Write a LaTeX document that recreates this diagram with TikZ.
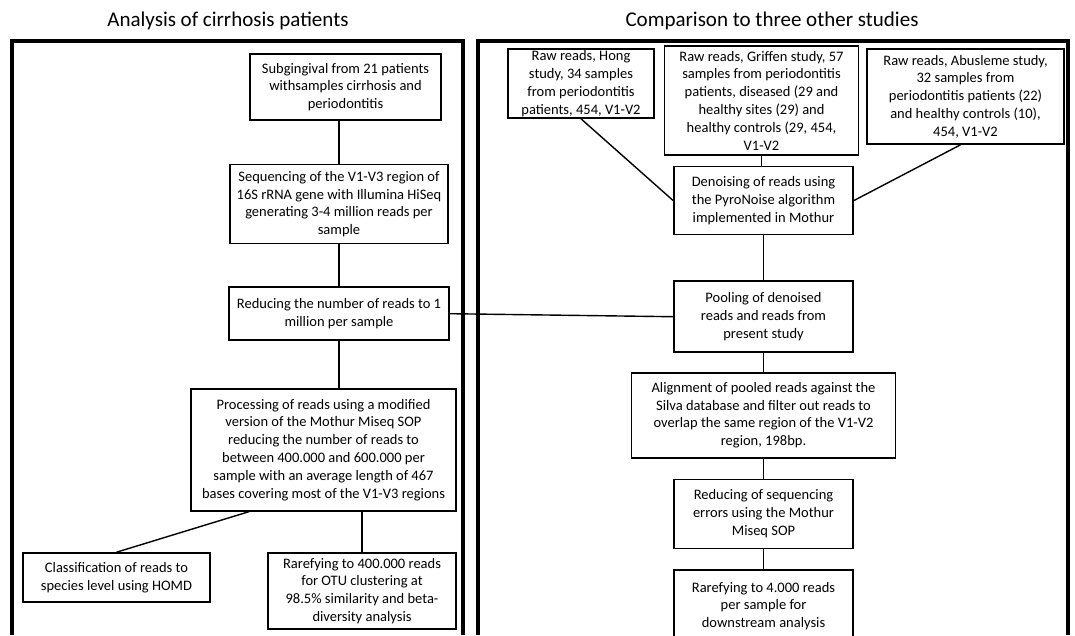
\documentclass[tikz,border=0pt]{standalone}
\usepackage{fontspec}
\setmainfont{Carlito}
\usetikzlibrary{positioning}

\begin{document}
\begin{tikzpicture}[x=1pt, y=-1pt, line width=1.4pt,
  stage/.style={draw, line width=1.6pt, align=center, inner sep=1pt, font=\fontsize{14.5}{17.8}\selectfont},
  frame/.style={line width=3.4pt},
  head/.style={font=\fontsize{21}{25}\selectfont, anchor=base}]
  \useasboundingbox (0,0) rectangle (1075,635);
  \draw[frame] (12,635) -- (12,41) -- (463,41) -- (463,635);
  \draw[frame] (478,635) -- (478,41) -- (1068,41) -- (1068,635);
  \node[head] (tl) at (228,26) {Analysis of cirrhosis patients};
  \node[head] (tr) at (772,26) {Comparison to three other studies};

  \node[stage, minimum width=191pt, minimum height=66pt] (b1) at (345.5,87)
    {Subgingival from 21 patients\\withsamples  cirrhosis and\\periodontitis};
  \node[stage, minimum width=218pt, minimum height=79pt, below=43pt of b1, xshift=-6.5pt] (b2)
    {Sequencing of the V1-V3 region of\\16S rRNA gene with Illumina HiSeq\\generating 3-4 million reads per\\sample};
  \node[stage, minimum width=220pt, minimum height=53pt, below=42pt of b2] (b3)
    {Reducing  the number of reads to 1\\million per sample};
  \node[stage, minimum width=265pt, minimum height=122pt, below=47pt of b3, xshift=-15.5pt] (b4)
    {Processing of reads using a modified\\version of the Mothur Miseq SOP\\reducing the number  of reads to\\between 400.000 and 600.000 per\\sample with an average length of 467\\bases covering most of the V1-V3 regions};
  \node[stage, minimum width=187pt, minimum height=49pt] (b5) at (116.5,577.5)
    {Classification  of reads to\\species  level using HOMD};
  \node[stage, minimum width=188pt, minimum height=76pt] (b6) at (362,591)
    {Rarefying to 400.000 reads\\for OTU clustering at\\98.5\% similarity and beta-\\diversity analysis};

  \node[stage, minimum width=146pt, minimum height=69pt] (hong) at (581,83.5)
    {Raw reads, Hong\\study, 34 samples\\from periodontitis\\patients, 454, V1-V2};
  \node[stage, minimum width=194pt, minimum height=109pt] (griffen) at (761.5,100.5)
    {Raw reads, Griffen study, 57\\samples from periodontitis\\patients, diseased (29 and\\healthy sites (29) and\\healthy controls (29, 454,\\V1-V2};
  \node[stage, minimum width=197pt, minimum height=95pt] (abus) at (965.5,96.5)
    {Raw reads, Abusleme study,\\32 samples from\\periodontitis patients (22)\\and healthy controls (10),\\454, V1-V2};
  \node[stage, minimum width=179pt, minimum height=68pt, below=10pt of griffen, xshift=2pt] (denoise)
    {Denoising of reads using\\the PyroNoise algorithm\\implemented  in Mothur};
  \node[stage, minimum width=179pt, minimum height=71pt, below=45pt of denoise] (pool)
    {Pooling of denoised\\reads and reads from\\present study};
  \node[stage, minimum width=264pt, minimum height=85pt, below=19pt of pool] (align)
    {Alignment of pooled reads against the\\Silva database and filter out reads to\\overlap the same region of the V1-V2\\region, 198bp.};
  \node[stage, minimum width=179pt, minimum height=69pt, below=20pt of align] (reduce)
    {Reducing  of sequencing\\errors using the Mothur\\Miseq SOP};
  \node[stage, minimum width=179pt, minimum height=72pt, below=20pt of reduce] (rare)
    {Rarefying to 4.000 reads\\per sample for\\downstream analysis};

  \draw (b2.north) -- (b2.north |- b1.south);
  \draw (b2.south) -- (b3.north);
  \draw (b3.south) -- (b3.south |- b4.north);
  \draw ([xshift=59pt]b4.south west) -- (b5.north);
  \draw (b6.north) -- (b6.north |- b4.south);
  \draw (b3.east) -- (pool.west);
  \draw (hong.south) -- (denoise.west);
  \draw ([xshift=-5pt]abus.south) -- (denoise.east);
  \draw (griffen.south) -- (griffen.south |- denoise.north);
  \draw (denoise.south) -- (pool.north);
  \draw (pool.south) -- (pool.south |- align.north);
  \draw (reduce.north |- align.south) -- (reduce.north);
  \draw (reduce.south) -- (rare.north);
\end{tikzpicture}
\end{document}
